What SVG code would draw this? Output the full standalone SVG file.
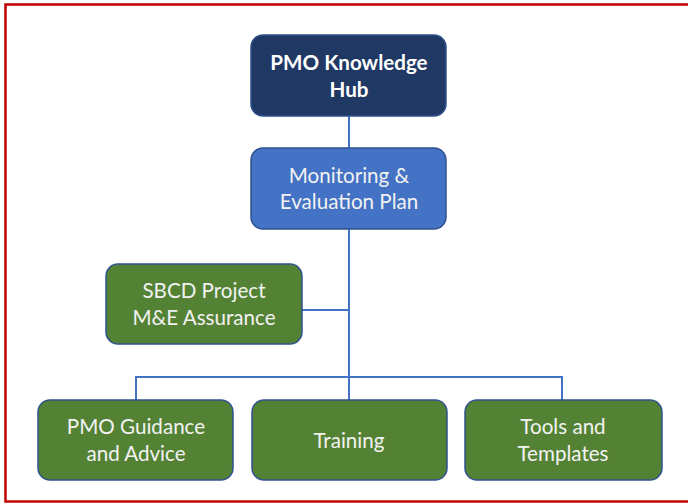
<svg xmlns="http://www.w3.org/2000/svg" width="688" height="504" viewBox="0 0 688 504">
<style>
.box{stroke:#2F528F;stroke-width:1.5}
.hub{fill:#203864}
.me{fill:#4472C4}
.gr{fill:#548235}
.t{font-family:Lato,"Open Sans",sans-serif;font-size:20.6px;fill:#F2F2F2;text-anchor:middle}
.b{font-weight:bold;fill:#FFFFFF}
.c{fill:none;stroke:#4472C4;stroke-width:2}
</style>
<rect x="0" y="0" width="688" height="504" fill="#FFFFFF"/>
<rect x="5.5" y="4.5" width="700" height="497" fill="none" stroke="#C00000" stroke-width="2.5"/>
<g id="connectors">
<path class="c" d="M349 116V400"/>
<path class="c" d="M302 310H349"/>
<path class="c" d="M136 400V377H562V400"/>
</g>
<g id="hub">
<rect class="box hub" x="251" y="35" width="195" height="81" rx="12"/>
<text class="t b" x="349" y="70">PMO Knowledge</text>
<text class="t b" x="349" y="97">Hub</text>
</g>
<g id="me-plan">
<rect class="box me" x="251" y="148" width="195" height="81" rx="12"/>
<text class="t" x="349" y="183">Monitoring &amp;</text>
<text class="t" x="349" y="209">Evaluation Plan</text>
</g>
<g id="sbcd">
<rect class="box gr" x="106" y="264" width="196" height="80" rx="12"/>
<text class="t" x="204" y="298">SBCD Project</text>
<text class="t" x="204" y="325">M&amp;E Assurance</text>
</g>
<g id="guidance">
<rect class="box gr" x="38" y="400" width="195" height="80" rx="12"/>
<text class="t" x="136" y="434">PMO Guidance</text>
<text class="t" x="136" y="461">and Advice</text>
</g>
<g id="training">
<rect class="box gr" x="252" y="400" width="195" height="80" rx="12"/>
<text class="t" x="349" y="448">Training</text>
</g>
<g id="tools">
<rect class="box gr" x="465" y="400" width="197" height="80" rx="12"/>
<text class="t" x="563" y="434">Tools and</text>
<text class="t" x="563" y="461">Templates</text>
</g>
</svg>
